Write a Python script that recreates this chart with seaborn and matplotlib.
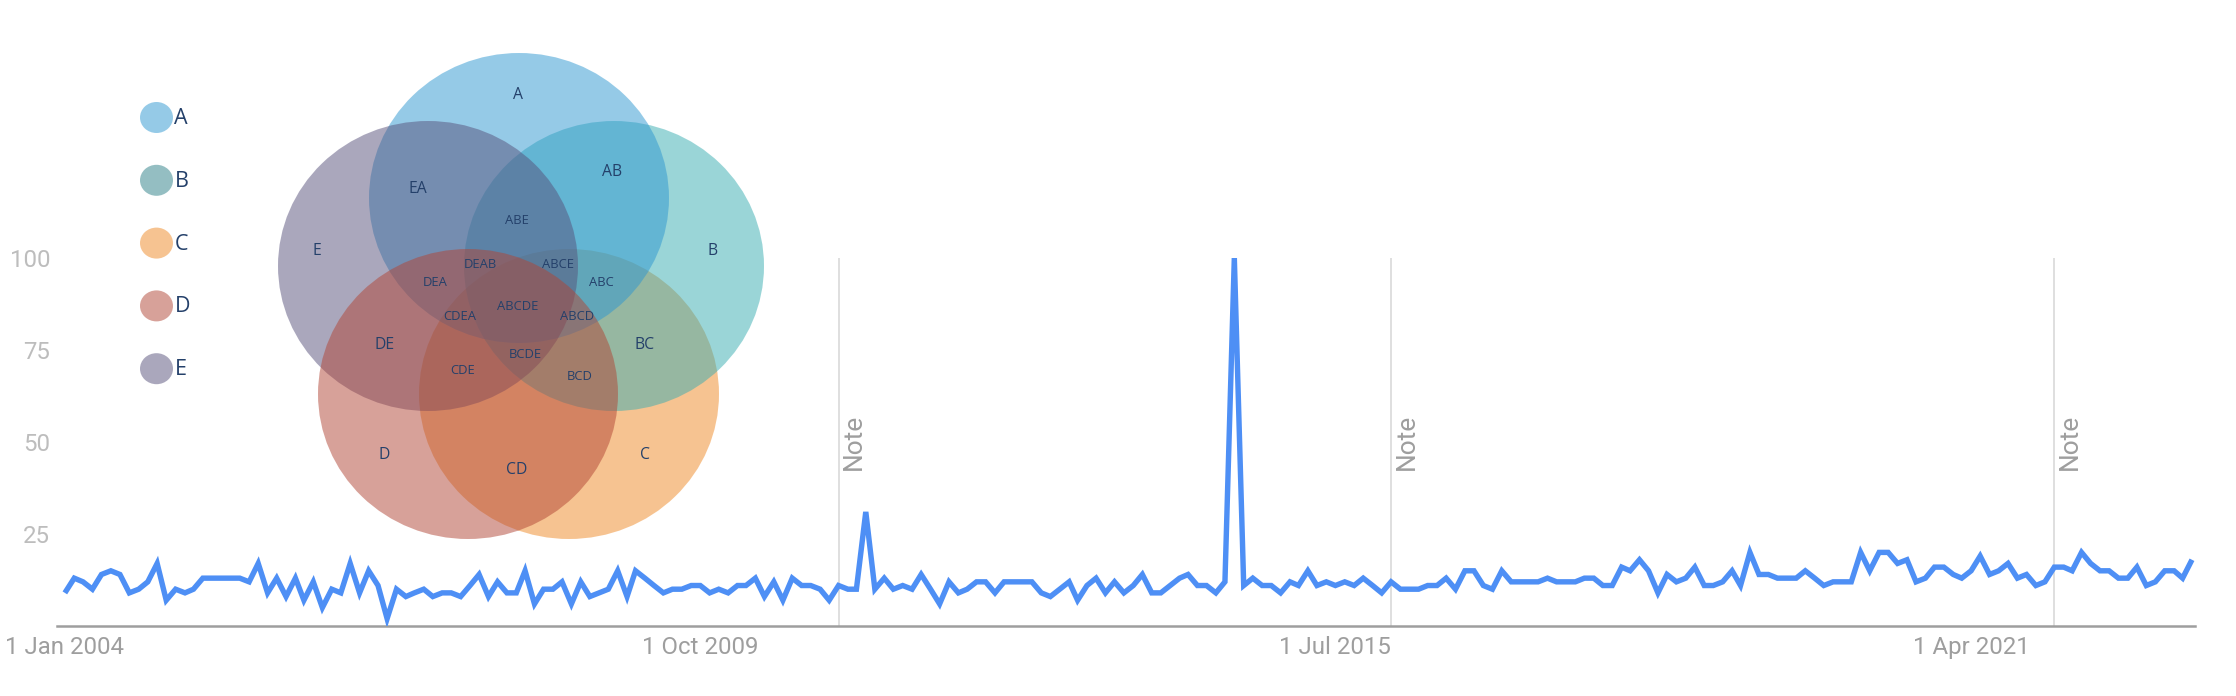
import numpy as np
import pandas as pd
import matplotlib
matplotlib.use("Agg")
import matplotlib.pyplot as plt
from matplotlib.patches import Ellipse
import seaborn as sns

# ---------------- data ----------------
trend_start = "2004-01-01"
interest = [
    9, 13, 12, 10, 14, 15, 14, 9, 10, 12,
    17, 7, 10, 9, 10, 13, 13, 13, 13, 13,
    12, 17, 9, 13, 8, 13, 7, 12, 5, 10,
    9, 17, 9, 15, 11, 2, 10, 8, 9, 10,
    8, 9, 9, 8, 11, 14, 8, 12, 9, 9,
    15, 6, 10, 10, 12, 6, 12, 8, 9, 10,
    15, 8, 15, 13, 11, 9, 10, 10, 11, 11,
    9, 10, 9, 11, 11, 13, 8, 12, 7, 13,
    11, 11, 10, 7, 11, 10, 10, 31, 10, 13,
    10, 11, 10, 14, 10, 6, 12, 9, 10, 12,
    12, 9, 12, 12, 12, 12, 9, 8, 10, 12,
    7, 11, 13, 9, 12, 9, 11, 14, 9, 9,
    11, 13, 14, 11, 11, 9, 12, 100, 11, 13,
    11, 11, 9, 12, 11, 15, 11, 12, 11, 12,
    11, 13, 11, 9, 12, 10, 10, 10, 11, 11,
    13, 10, 15, 15, 11, 10, 15, 12, 12, 12,
    12, 13, 12, 12, 12, 13, 13, 11, 11, 16,
    15, 18, 15, 9, 14, 12, 13, 16, 11, 11,
    12, 15, 11, 20, 14, 14, 13, 13, 13, 15,
    13, 11, 12, 12, 12, 20, 15, 20, 20, 17,
    18, 12, 13, 16, 16, 14, 13, 15, 19, 14,
    15, 17, 13, 14, 11, 12, 16, 16, 15, 20,
    17, 15, 15, 13, 13, 16, 11, 12, 15, 15,
    13, 18,
]
tick_dates = ["2004-01-01", "2009-10-01", "2015-07-01", "2021-04-01"]
tick_labels = ["1 Jan 2004", "1 Oct 2009", "1 Jul 2015", "1 Apr 2021"]
y_ticks = [25, 50, 75, 100]
note_dates = ["2011-01-01", "2016-01-01", "2022-01-01"]
note_text = "Note"

set_names = ["A", "B", "C", "D", "E"]
region_labels = ["A", "AB", "EA", "ABE", "E", "B", "DEAB", "ABCE", "DEA", "ABC",
                 "ABCDE", "CDEA", "ABCD", "DE", "BC", "BCDE", "CDE", "BCD",
                 "D", "C", "CD"]

# ---------------- layout / style ----------------
W, H, DPI = 2236, 696, 100
line_color = "#4e8ff5"
set_colors = {"A": "#2d97d1", "B": "#37adb1", "C": "#ef8925",
              "D": "#b14535", "E": "#57517b"}
legend_colors = {"A": "#2d97d1", "B": "#2b7f86", "C": "#ef8925",
                 "D": "#b14535", "E": "#57517b"}
draw_order = ["C", "B", "A", "E", "D"]
circle_centers = {"A": (519, 198), "B": (614, 266), "E": (428, 266),
                  "C": (569, 394), "D": (468, 394)}
circle_w, circle_h = 300, 290
label_pos = {
    "A": (518, 95), "AB": (612, 172), "EA": (418, 189), "ABE": (517, 220),
    "E": (317, 251), "B": (713, 251), "DEAB": (480, 265), "ABCE": (558, 265),
    "DEA": (435, 283), "ABC": (601, 283), "ABCDE": (518, 306),
    "CDEA": (460, 317), "ABCD": (577, 317), "DE": (385, 345), "BC": (645, 345),
    "BCDE": (525, 354), "CDE": (463, 370), "BCD": (580, 377),
    "D": (384, 455), "C": (645, 455), "CD": (517, 470),
}
legend_x, legend_y0, legend_dy = 156.5, 117.5, 62.8
legend_w, legend_h = 33, 31
text_navy = "#24406a"

sns.set_style("white")
plt.rcParams["font.family"] = ["Roboto", "DejaVu Sans"]

fig = plt.figure(figsize=(W / DPI, H / DPI), dpi=DPI)
fig.patch.set_facecolor("white")

# ---------------- trend line chart ----------------
left_px, right_px, zero_px, hundred_px = 57, 2195, 626, 258
ax = fig.add_axes([left_px / W, (H - zero_px) / H,
                   (right_px - left_px) / W, (zero_px - hundred_px) / H])

dates = pd.date_range(trend_start, periods=len(interest), freq="MS")
df = pd.DataFrame({"date": dates, "interest": interest})
sns.lineplot(data=df, x="date", y="interest", ax=ax, color=line_color,
             linewidth=3.9, zorder=3)
for ln in ax.lines:
    ln.set_solid_joinstyle("miter")
    ln.set_solid_capstyle("butt")

ax.set_xlim(dates[0] - pd.Timedelta(days=26), dates[-1] + pd.Timedelta(days=10))
ax.set_ylim(0, 100)

ax.vlines(pd.to_datetime(note_dates), 0, 100, color="#d6d6d6", lw=1.1, zorder=1)
for nd in pd.to_datetime(note_dates):
    ax.annotate(note_text, xy=(nd, 50), xytext=(2.5, 0), textcoords="offset points",
                rotation=90, ha="left", va="center", fontsize=19,
                color="#9e9e9e")

ax.set_xticks(pd.to_datetime(tick_dates))
ax.set_xticklabels(tick_labels)
ax.set_yticks(y_ticks)
ax.set_yticklabels([str(v) for v in y_ticks])
ax.tick_params(axis="x", length=0, pad=7, labelsize=17.3, labelcolor="#9e9e9e")
ax.tick_params(axis="y", length=0, pad=5, labelsize=17.3, labelcolor="#bdbdbd")
ax.set_xlabel("")
ax.set_ylabel("")
ax.grid(False)
for s in ["left", "top", "right"]:
    ax.spines[s].set_visible(False)
ax.spines["bottom"].set_color("#9e9e9e")
ax.spines["bottom"].set_linewidth(1.8)

# ---------------- Venn overlay ----------------
vx = fig.add_axes([0, 0, 1, 1], zorder=5)
vx.set_xlim(0, W)
vx.set_ylim(H, 0)
vx.axis("off")
vx.patch.set_alpha(0)

for name in draw_order:
    cx, cy = circle_centers[name]
    vx.add_patch(Ellipse((cx, cy), circle_w, circle_h,
                         facecolor=set_colors[name], alpha=0.5, lw=0))

for lab in region_labels:
    x, y = label_pos[lab]
    fs = 11.3 if len(lab) <= 2 else 9.4
    vx.text(x, y, lab, ha="center", va="center", fontsize=fs,
            color=text_navy, family=["Open Sans", "DejaVu Sans"])

for k, name in enumerate(set_names):
    y = legend_y0 + k * legend_dy
    vx.add_patch(Ellipse((legend_x, y), legend_w, legend_h,
                         facecolor=legend_colors[name], alpha=0.5, lw=0))
    vx.text(legend_x + 18, y + 1, name, ha="left", va="center", fontsize=15.5,
            color=text_navy, family=["Open Sans", "DejaVu Sans"])

fig.savefig("out.png", dpi=DPI, facecolor="white")
